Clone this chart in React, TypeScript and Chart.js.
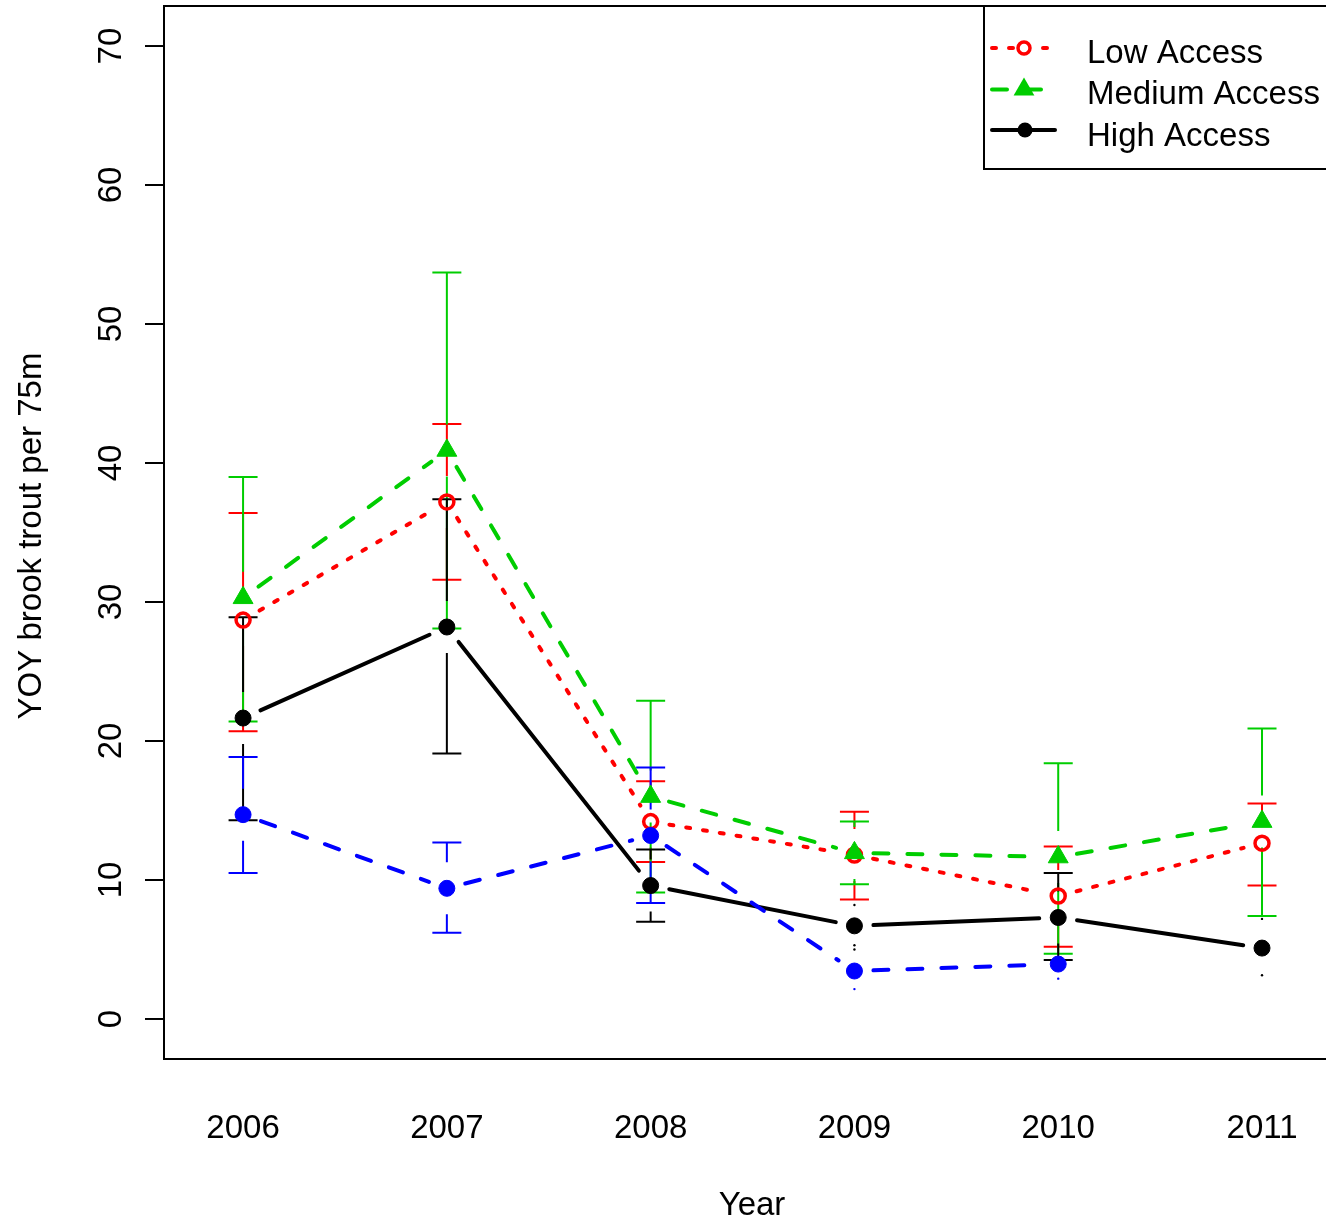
import React, { useEffect, useRef } from "react";
import { Chart, registerables } from "chart.js";

Chart.register(...registerables);

// ---------- data ----------
const years = [2006, 2007, 2008, 2009, 2010, 2011];

const lowMean = [28.7, 37.2, 14.2, 11.8, 8.85, 12.65];
const lowUpper = [36.4, 42.8, 17.1, 14.9, 12.4, 15.5];
const lowLower = [20.7, 31.6, 11.3, 8.6, 5.2, 9.6];

const medMean = [30.3, 40.9, 16.0, 11.95, 11.65, 14.2];
const medUpper = [39.0, 53.7, 22.9, 14.2, 18.4, 20.9];
const medLower = [21.4, 28.1, 9.1, 9.7, 4.7, 7.4];

const highMean = [21.65, 28.2, 9.6, 6.7, 7.3, 5.1];
const highUpper = [28.9, 37.4, 12.2, null, 10.5, null];
const highLower = [14.3, 19.1, 7.0, null, 4.25, null];

const otherYears = [2006, 2007, 2008, 2009, 2010];
const otherMean = [14.7, 9.4, 13.2, 3.45, 3.95];
const otherUpper = [18.85, 12.7, 18.1, null, null];
const otherLower = [10.5, 6.2, 8.35, null, null];

// tiny degenerate error-bar marks
const highDotYears = [2009, 2009, 2009, 2011, 2011];
const highDotValues = [8.2, 5.3, 5.0, 7.2, 3.15];
const otherDotYears = [2009, 2010];
const otherDotValues = [2.15, 2.9];

const yTicks = [0, 10, 20, 30, 40, 50, 60, 70];
const legendLabels = ["Low Access", "Medium Access", "High Access"];
const xTitle = "Year";
const yTitle = "YOY brook trout per 75m";

// ---------- styles ----------
const RED = "#FF0000";
const GREEN = "#00CD00";
const BLUE = "#0000FF";
const BLACK = "#000000";
const FONT = '33px "Liberation Sans", Arial, Helvetica, sans-serif';
const LINE_GAP = 19;
const BAR_GAP = 26;
const CAP = 14.5;

const toPts = (xs: number[], ys: number[]) => xs.map((x, i) => ({ x, y: ys[i] }));

const seriesStyles = [
  { color: RED, dash: [4, 13], width: 4 },
  { color: GREEN, dash: [15, 19], width: 4 },
  { color: BLACK, dash: [], width: 4 },
  { color: BLUE, dash: [15, 19], width: 4 },
];

const errorData = [
  { xs: years, up: lowUpper, lo: lowLower, mean: lowMean, color: RED },
  { xs: years, up: medUpper, lo: medLower, mean: medMean, color: GREEN },
  { xs: years, up: highUpper, lo: highLower, mean: highMean, color: BLACK },
  { xs: otherYears, up: otherUpper, lo: otherLower, mean: otherMean, color: BLUE },
];

function drawTriangle(ctx: CanvasRenderingContext2D, x: number, y: number, r: number, color: string) {
  ctx.beginPath();
  ctx.moveTo(x, y - r);
  ctx.lineTo(x - r * Math.sin(Math.PI / 3), y + r / 2);
  ctx.lineTo(x + r * Math.sin(Math.PI / 3), y + r / 2);
  ctx.closePath();
  ctx.fillStyle = color;
  ctx.fill();
}

const rPlot = {
  id: "rPlot",
  beforeDatasetsDraw(chart: any) {
    const ctx: CanvasRenderingContext2D = chart.ctx;
    const xs = chart.scales.x;
    const ys = chart.scales.y;
    ctx.save();
    // connecting lines with gaps (type = "b")
    for (let d = 0; d < 4; d++) {
      const meta = chart.getDatasetMeta(d);
      const st = seriesStyles[d];
      ctx.strokeStyle = st.color;
      ctx.lineWidth = st.width;
      ctx.lineCap = "round";
      ctx.setLineDash(st.dash);
      const ps = meta.data;
      for (let i = 0; i < ps.length - 1; i++) {
        const a = ps[i], b = ps[i + 1];
        const dx = b.x - a.x, dy = b.y - a.y;
        const len = Math.hypot(dx, dy);
        if (len <= 2 * LINE_GAP) continue;
        const ux = dx / len, uy = dy / len;
        ctx.beginPath();
        ctx.moveTo(a.x + ux * LINE_GAP, a.y + uy * LINE_GAP);
        ctx.lineTo(b.x - ux * LINE_GAP, b.y - uy * LINE_GAP);
        ctx.stroke();
      }
    }
    // error bars with gap around the point
    ctx.setLineDash([]);
    ctx.lineCap = "butt";
    ctx.lineWidth = 2;
    for (const e of errorData) {
      ctx.strokeStyle = e.color;
      e.xs.forEach((yr, i) => {
        const px = xs.getPixelForValue(yr);
        const pm = ys.getPixelForValue(e.mean[i]);
        const u = e.up[i];
        const l = e.lo[i];
        if (u !== null && u !== undefined) {
          const pu = ys.getPixelForValue(u);
          ctx.beginPath();
          if (pm - BAR_GAP > pu) {
            ctx.moveTo(px, pm - BAR_GAP);
            ctx.lineTo(px, pu);
          }
          ctx.moveTo(px - CAP, pu);
          ctx.lineTo(px + CAP, pu);
          ctx.stroke();
        }
        if (l !== null && l !== undefined) {
          const pl = ys.getPixelForValue(l);
          ctx.beginPath();
          if (pm + BAR_GAP < pl) {
            ctx.moveTo(px, pm + BAR_GAP);
            ctx.lineTo(px, pl);
          }
          ctx.moveTo(px - CAP, pl);
          ctx.lineTo(px + CAP, pl);
          ctx.stroke();
        }
      });
    }
    ctx.restore();
  },
  afterDraw(chart: any) {
    const ctx: CanvasRenderingContext2D = chart.ctx;
    const xs = chart.scales.x;
    const ys = chart.scales.y;
    const area = chart.chartArea;
    const W = chart.width;
    const frameRight = W + 14;
    ctx.save();
    ctx.setLineDash([]);
    ctx.strokeStyle = BLACK;
    ctx.lineWidth = 2;
    // frame (left, top, bottom)
    ctx.beginPath();
    ctx.moveTo(frameRight, area.top);
    ctx.lineTo(area.left, area.top);
    ctx.lineTo(area.left, area.bottom);
    ctx.lineTo(frameRight, area.bottom);
    ctx.stroke();

    // y ticks and labels
    ctx.fillStyle = BLACK;
    ctx.font = FONT;
    for (const v of yTicks) {
      const py = ys.getPixelForValue(v);
      ctx.beginPath();
      ctx.moveTo(area.left - 19, py);
      ctx.lineTo(area.left, py);
      ctx.stroke();
      ctx.save();
      ctx.translate(121, py);
      ctx.rotate(-Math.PI / 2);
      ctx.textAlign = "center";
      ctx.textBaseline = "alphabetic";
      ctx.fillText(String(v), 0, 0);
      ctx.restore();
    }
    // x labels
    ctx.textAlign = "center";
    ctx.textBaseline = "alphabetic";
    for (const yr of years) {
      ctx.fillText(String(yr), xs.getPixelForValue(yr), 1138);
    }
    // axis titles
    ctx.fillText(xTitle, (area.left + frameRight) / 2, 1215);
    ctx.save();
    ctx.translate(41, 536);
    ctx.rotate(-Math.PI / 2);
    ctx.fillText(yTitle, 0, 0);
    ctx.restore();

    // legend box
    const lx = 984, ly = area.top;
    ctx.fillStyle = "#FFFFFF";
    ctx.fillRect(lx, ly, W - lx + 20, 163);
    ctx.strokeStyle = BLACK;
    ctx.lineWidth = 2;
    ctx.beginPath();
    ctx.moveTo(W + 20, ly);
    ctx.lineTo(lx, ly);
    ctx.lineTo(lx, ly + 163);
    ctx.lineTo(W + 20, ly + 163);
    ctx.stroke();

    const rows = [48, 89.5, 130];
    const baselines = [63, 104, 146];
    const symX = 1024;
    for (let k = 0; k < 3; k++) {
      const st = seriesStyles[k];
      ctx.strokeStyle = st.color;
      ctx.lineWidth = st.width;
      ctx.lineCap = "round";
      ctx.setLineDash(st.dash);
      ctx.beginPath();
      ctx.moveTo(992, rows[k]);
      ctx.lineTo(k === 2 ? 1055 : 1047, rows[k]);
      ctx.stroke();
      ctx.setLineDash([]);
      if (k === 0) {
        ctx.fillStyle = "#FFFFFF";
        ctx.beginPath();
        ctx.arc(symX, rows[k], 8.5, 0, Math.PI * 2);
        ctx.fill();
        ctx.strokeStyle = RED;
        ctx.lineWidth = 3.5;
        ctx.beginPath();
        ctx.arc(symX, rows[k], 6, 0, Math.PI * 2);
        ctx.stroke();
      } else if (k === 1) {
        drawTriangle(ctx, symX, rows[k], 12, GREEN);
      } else {
        ctx.fillStyle = BLACK;
        ctx.beginPath();
        ctx.arc(symX + 1, rows[k], 7.5, 0, Math.PI * 2);
        ctx.fill();
      }
      ctx.fillStyle = BLACK;
      ctx.font = FONT;
      ctx.textAlign = "left";
      ctx.textBaseline = "alphabetic";
      ctx.fillText(legendLabels[k], 1087, baselines[k]);
    }
    ctx.restore();
  },
};

export default function App() {
  const ref = useRef<HTMLCanvasElement | null>(null);
  useEffect(() => {
    document.body.style.margin = "0";
    const canvas = ref.current;
    if (!canvas) return;
    const chart = new Chart(canvas, {
      type: "scatter",
      data: {
        datasets: [
          {
            label: legendLabels[0],
            data: toPts(years, lowMean),
            pointStyle: "circle",
            pointRadius: 7,
            pointBorderWidth: 3.5,
            pointBorderColor: RED,
            pointBackgroundColor: "rgba(0,0,0,0)",
            showLine: false,
            order: 3,
          },
          {
            label: legendLabels[1],
            data: toPts(years, medMean),
            pointStyle: "triangle",
            pointRadius: 11.5,
            pointBorderWidth: 1,
            pointBorderColor: GREEN,
            pointBackgroundColor: GREEN,
            showLine: false,
            order: 2,
          },
          {
            label: legendLabels[2],
            data: toPts(years, highMean),
            pointStyle: "circle",
            pointRadius: 8,
            pointBorderWidth: 1,
            pointBorderColor: BLACK,
            pointBackgroundColor: BLACK,
            showLine: false,
            order: 1,
          },
          {
            label: "other",
            data: toPts(otherYears, otherMean),
            pointStyle: "circle",
            pointRadius: 8,
            pointBorderWidth: 1,
            pointBorderColor: BLUE,
            pointBackgroundColor: BLUE,
            showLine: false,
            order: 0,
          },
          {
            label: "highDots",
            data: toPts(highDotYears, highDotValues),
            pointStyle: "circle",
            pointRadius: 1.2,
            pointBorderWidth: 0,
            pointBackgroundColor: BLACK,
            showLine: false,
            order: 5,
          },
          {
            label: "otherDots",
            data: toPts(otherDotYears, otherDotValues),
            pointStyle: "circle",
            pointRadius: 1.2,
            pointBorderWidth: 0,
            pointBackgroundColor: BLUE,
            showLine: false,
            order: 5,
          },
        ],
      },
      options: {
        animation: false,
        responsive: true,
        maintainAspectRatio: false,
        events: [],
        layout: { autoPadding: false, padding: { left: 164, top: 6, right: 0, bottom: 167 } },
        plugins: { legend: { display: false }, tooltip: { enabled: false }, title: { display: false } },
        scales: {
          x: { type: "linear", min: 2005.612, max: 2011.314, display: false },
          y: { type: "linear", min: -2.88, max: 72.88, display: false },
        },
      },
      plugins: [rPlot],
    } as any);
    return () => chart.destroy();
  }, []);
  return (
    <div style={{ position: "absolute", left: 0, top: 0, width: 1326, height: 1226, background: "#fff" }}>
      <canvas ref={ref} />
    </div>
  );
}
